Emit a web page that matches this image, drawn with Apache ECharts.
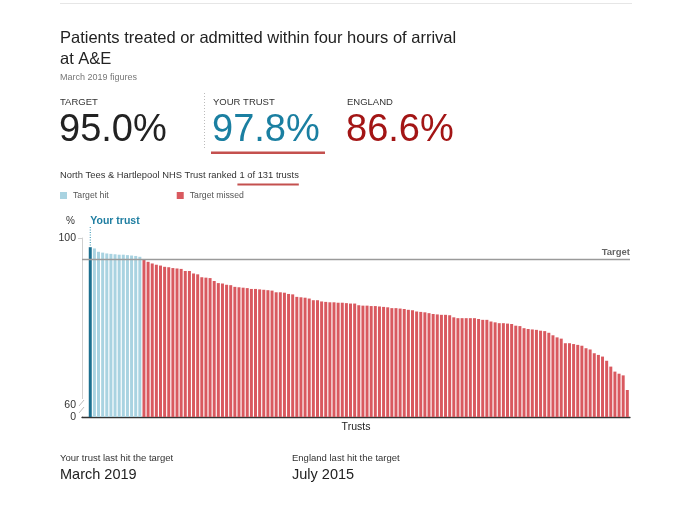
<!DOCTYPE html>
<html><head><meta charset="utf-8">
<script src="https://cdn.jsdelivr.net/npm/echarts@6/dist/echarts.min.js"></script>
<style>html,body{margin:0;padding:0;background:#fff}#c{width:680px;height:510px}</style>
</head><body><div id="c"></div>
<script>
// ---- data ----
const trustValues = [
  97.8, 97.5, 96.7, 96.5, 96.3, 96.2, 96.1, 96.0, 96.0, 95.9, 95.8, 95.7, 95.5,
  94.8, 94.3, 93.9, 93.6, 93.4, 93.1, 93.0, 92.8, 92.7, 92.6, 92.1, 92.1, 91.5,
  91.3, 90.6, 90.5, 90.4, 89.7, 89.2, 89.1, 88.8, 88.7, 88.3, 88.2, 88.1, 88.0,
  87.8, 87.8, 87.7, 87.6, 87.5, 87.4, 87.0, 87.0, 86.9, 86.6, 86.5, 85.9, 85.8,
  85.7, 85.5, 85.1, 85.1, 84.8, 84.7, 84.6, 84.6, 84.5, 84.5, 84.4, 84.3, 84.3,
  83.9, 83.8, 83.8, 83.7, 83.7, 83.6, 83.5, 83.4, 83.2, 83.2, 83.1, 83.0, 82.8,
  82.7, 82.4, 82.3, 82.2, 82.0, 81.8, 81.7, 81.6, 81.6, 81.5, 81.0, 80.8, 80.8,
  80.8, 80.8, 80.8, 80.6, 80.4, 80.4, 80.0, 79.8, 79.6, 79.6, 79.5, 79.4, 79.0,
  78.9, 78.4, 78.2, 78.1, 78.0, 77.8, 77.7, 77.3, 76.7, 76.2, 75.9, 74.8, 74.8,
  74.6, 74.4, 74.2, 73.6, 73.3, 72.4, 72.0, 71.6, 70.6, 69.2, 68.0, 67.5, 67.1,
  63.6
];
const TARGET = 95.0;
const ENGLAND = 86.6;
const YOUR_TRUST_RANK = 1;
const yTickLabels = ['0', '60', '100'];
const yTickValues = [60, 100];
const seriesNames = ['Your trust', 'Target hit', 'Target missed'];

// axis layout (broken axis: bottom of plot is labelled 0)
const Y_MIN = 57.13, Y_MAX = 100;
const X_MIN = -2, X_MAX = 130.65;

const FONT = "'Liberation Sans', Arial, Helvetica, sans-serif";
const COL_DARK = '#1b6f8f', COL_HIT = '#a9d3e1', COL_MISS = '#d9595f';

const pairs = trustValues.map((v, i) => [i, v]);
const yourData = pairs.filter(p => p[0] === YOUR_TRUST_RANK - 1);
const hitData = pairs.filter(p => p[0] !== YOUR_TRUST_RANK - 1 && p[1] >= TARGET);
const missData = pairs.filter(p => p[0] !== YOUR_TRUST_RANK - 1 && p[1] < TARGET);

function t(text, left, top, size, color, weight) {
  return { text, left, top, padding: 0,
    textStyle: { fontSize: size, color, fontFamily: FONT, fontWeight: weight || 'normal', lineHeight: size * 1.3 } };
}
function big(text, left, color) {
  return { text, left, top: 108, padding: 0,
    textStyle: { fontSize: 38, color, fontFamily: FONT, fontWeight: 'normal', lineHeight: 46 } };
}

const rankPrefix = 'North Tees & Hartlepool NHS Trust ranked ';
const rankSuffix = YOUR_TRUST_RANK + ' of ' + trustValues.length + ' trusts';
const RANK_FONT_SIZE = 9.4;
const mctx = document.createElement('canvas').getContext('2d');
mctx.font = RANK_FONT_SIZE + 'px ' + FONT;
const prefixW = mctx.measureText(rankPrefix).width;
const suffixW = mctx.measureText(rankSuffix).width;

const chart = echarts.init(document.getElementById('c'), null, { renderer: 'canvas' });
const option = {
  backgroundColor: '#fff',
  animation: false,
  title: [
    { text: 'Patients treated or admitted within four hours of arrival\nat A&E', left: 60, top: 28, padding: 0,
      textStyle: { fontSize: 16.5, color: '#222', fontFamily: FONT, fontWeight: 'normal', lineHeight: 21 } },
    t('March 2019 figures', 60, 72, 9, '#777'),
    t('TARGET', 60, 96, 9.5, '#333'),
    t('YOUR TRUST', 213, 96, 9.5, '#333'),
    t('ENGLAND', 347, 96, 9.5, '#333'),
    big(TARGET.toFixed(1) + '%', 59, '#222'),
    big(trustValues[YOUR_TRUST_RANK - 1].toFixed(1) + '%', 212, '#1a7fa1'),
    big(ENGLAND.toFixed(1) + '%', 346, '#a31515'),
    t(rankPrefix + rankSuffix, 60, 169, RANK_FONT_SIZE, '#333'),
    t('Your trust last hit the target', 60, 452, 9.5, '#333'),
    t('March 2019', 60, 465.5, 14.5, '#222'),
    t('England last hit the target', 292, 452, 9.5, '#333'),
    t('July 2015', 292, 465.5, 14.5, '#222')
  ],
  legend: {
    data: [seriesNames[1], seriesNames[2]],
    left: 60, top: 191, padding: 0, icon: 'rect', itemWidth: 7, itemHeight: 7, itemGap: 68,
    selectedMode: false,
    textStyle: { fontSize: 8.7, color: '#555', fontFamily: FONT, padding: [0, 0, 0, 1] }
  },
  grid: { left: 82, right: 50, top: 238, bottom: 93, containLabel: false },
  xAxis: {
    type: 'value', min: X_MIN, max: X_MAX,
    name: 'Trusts', nameLocation: 'middle', nameGap: 5,
    nameTextStyle: { fontSize: 10.5, color: '#222', fontFamily: FONT },
    axisLine: { show: true, onZero: false, lineStyle: { color: '#333', width: 1.3 } },
    axisTick: { show: false }, axisLabel: { show: false }, splitLine: { show: false }
  },
  yAxis: {
    type: 'value', min: Y_MIN, max: Y_MAX,
    name: '%', nameLocation: 'end', nameGap: 12,
    nameTextStyle: { fontSize: 10, color: '#333', fontFamily: FONT, align: 'right', padding: [0, 7, 0, 0] },
    axisLine: { show: true, onZero: false, lineStyle: { color: '#cfcfcf', width: 1 } },
    axisTick: { show: true, customValues: [Y_MAX], length: 4, lineStyle: { color: '#cfcfcf' } },
    axisLabel: {
      show: true, customValues: [Y_MIN].concat(yTickValues), margin: 6,
      fontSize: 10.5, color: '#333', fontFamily: FONT,
      formatter: v => v < yTickValues[0] ? yTickLabels[0] : yTickLabels[yTickValues.indexOf(v) + 1]
    },
    splitLine: { show: false }
  },
  series: [
    { name: seriesNames[0], type: 'bar', stack: 'trusts', barWidth: 3, data: yourData,
      itemStyle: { color: COL_DARK }, silent: true },
    { name: seriesNames[1], type: 'bar', stack: 'trusts', barWidth: 3, data: hitData,
      itemStyle: { color: COL_HIT }, silent: true },
    { name: seriesNames[2], type: 'bar', stack: 'trusts', barWidth: 3, data: missData,
      itemStyle: { color: COL_MISS }, silent: true,
      markLine: {
        silent: true, symbol: 'none', animation: false,
        lineStyle: { color: '#9a9a9a', width: 1.4, type: 'solid' },
        label: { show: true, position: 'insideEndTop', formatter: 'Target', color: '#666',
          fontSize: 9.5, fontWeight: 'bold', fontFamily: FONT, distance: [0, 2] },
        data: [{ yAxis: TARGET }]
      }
    }
  ]
};
chart.setOption(option);

// decorations positioned from the chart's own scales
const bx = chart.convertToPixel({ xAxisIndex: 0 }, YOUR_TRUST_RANK - 1);
const by = chart.convertToPixel({ yAxisIndex: 0 }, trustValues[YOUR_TRUST_RANK - 1]);
const axX = chart.convertToPixel({ xAxisIndex: 0 }, X_MIN);
const y60 = chart.convertToPixel({ yAxisIndex: 0 }, yTickValues[0]);
const yBot = chart.convertToPixel({ yAxisIndex: 0 }, Y_MIN);
const yTop = chart.convertToPixel({ yAxisIndex: 0 }, Y_MAX);

chart.setOption({
  graphic: [
    { type: 'line', shape: { x1: 60, y1: 3.5, x2: 632, y2: 3.5 }, style: { stroke: '#e6e6e6', lineWidth: 1 }, silent: true },
    { type: 'line', shape: { x1: 204.5, y1: 93, x2: 204.5, y2: 149 }, style: { stroke: '#bbb', lineWidth: 1, lineDash: [1, 2] }, silent: true },
    { type: 'rect', shape: { x: 211, y: 151.5, width: 114, height: 2.5 }, style: { fill: '#c4504e' }, silent: true },
    { type: 'rect', shape: { x: 60 + prefixW - 2, y: 183.5, width: suffixW + 2, height: 2 }, style: { fill: '#c4504e' }, silent: true },
    // your trust marker
    { type: 'line', shape: { x1: bx, y1: yTop - 11, x2: bx, y2: by - 1 }, style: { stroke: '#2a8fb0', lineWidth: 1, lineDash: [1, 1.5] }, silent: true },
    { type: 'text', x: bx, y: yTop - 17, silent: true,
      style: { text: 'Your trust', fill: '#1f7ea1', font: 'bold 10.5px ' + FONT, textAlign: 'left', textVerticalAlign: 'middle' } },
    // axis break marks
    { type: 'rect', shape: { x: axX - 3, y: y60 - 6, width: 6, height: yBot - y60 + 5 }, style: { fill: '#fff' }, silent: true, z: 100 },
    { type: 'line', shape: { x1: axX - 3, y1: y60 + 1, x2: axX + 2, y2: y60 - 5 }, style: { stroke: '#bbb', lineWidth: 1 }, silent: true, z: 101 },
    { type: 'line', shape: { x1: axX - 3, y1: y60 + 8, x2: axX + 2, y2: y60 + 2 }, style: { stroke: '#bbb', lineWidth: 1 }, silent: true, z: 101 }
  ]
});
</script></body></html>
